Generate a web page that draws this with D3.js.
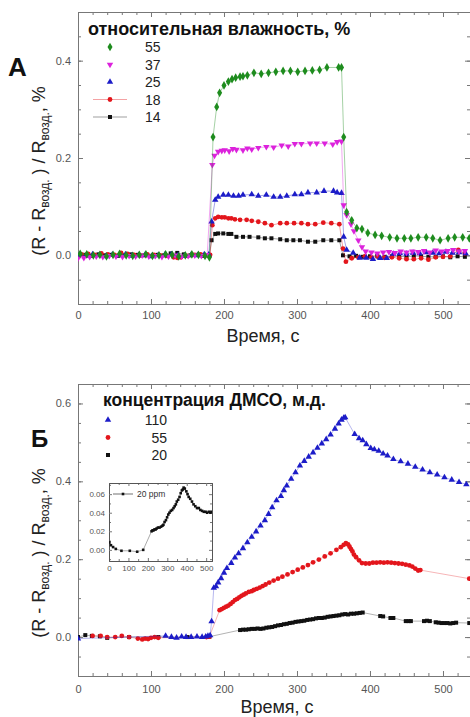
<!DOCTYPE html>
<html><head><meta charset="utf-8">
<script src="https://cdn.jsdelivr.net/npm/d3@7"></script>
<style>body{margin:0;background:#fff} text{font-family:"Liberation Sans",Arial,sans-serif}</style>
</head><body><svg id="c" width="470" height="717"></svg>
<script>
// ---------- Panel A: relative humidity, % ----------
const humLabels = ["55","37","25","18","14"];
const h55_t = [3,12,21,30,39,48,57,66,75,84,93,102,111,120,129,138,147,156,165,174,180, 185,190,194,200,206,211,216,222,226,232,241,251,261,271,281,291,301,311,321,331,341,357,361, 364,368,375,382,389,397,407,416,427,437,447,456,466,477,486,496,507,516,527,536];
const h55_v = [0.003,0.002,0.000,0.001,-0.002,0.001,0.003,0.000,-0.001,0.001,0.002,-0.001,0.000,0.002,0.001,-0.002,0.000,0.002,0.001,-0.001,-0.004, 0.243,0.305,0.334,0.349,0.357,0.362,0.365,0.367,0.368,0.370,0.375,0.373,0.375,0.377,0.379,0.379,0.377,0.379,0.380,0.381,0.386,0.386,0.386, 0.243,0.089,0.072,0.056,0.054,0.046,0.042,0.040,0.037,0.035,0.035,0.035,0.037,0.037,0.035,0.031,0.035,0.037,0.037,0.035];
const h37_t = [0,8,16,25,34,43,52,61,70,79,88,97,106,115,124,133,142,151,160,169,177, 184,187,192,197,201,207,212,217,226,232,238,247,258,268,279,288,297,306,318,327,338,349,355,361, 364,368,374,378,384,389,394,402,410,418,426,434,442,450,458,466,474,482,490,498,506,514,522,530];
const h37_v = [-0.006,-0.005,-0.003,-0.002,-0.003,-0.001,-0.002,-0.003,-0.001,-0.002,0.000,-0.002,-0.001,-0.003,-0.002,0.000,-0.002,-0.001,0.000,-0.001,0.001, 0.186,0.205,0.213,0.215,0.216,0.214,0.219,0.217,0.216,0.220,0.218,0.221,0.223,0.222,0.226,0.224,0.229,0.229,0.230,0.230,0.230,0.228,0.233,0.234, 0.103,0.083,0.064,0.050,0.031,0.017,0.008,0.006,0.004,0.006,0.007,0.005,0.008,0.006,0.008,0.007,0.009,0.006,0.010,0.008,0.009,0.011,0.008,0.009];
const h25_t = [2,11,20,29,38,47,56,65,74,83,92,101,110,119,128,137,146,155,164,173,179, 183,188,192,199,206,213,220,226,238,247,258,268,277,286,297,306,315,327,337,350,355,361, 364,368,377,386,395,404,414,423,432,441,450,459,468,477,486,495,504,513,522,531];
const h25_v = [0.001,-0.001,0.002,0.000,-0.002,0.001,0.000,0.002,-0.001,0.000,0.001,-0.002,0.000,0.001,0.002,0.000,-0.001,0.001,0.000,0.002,0.001, 0.069,0.114,0.120,0.124,0.124,0.122,0.122,0.124,0.125,0.122,0.124,0.120,0.120,0.122,0.125,0.125,0.129,0.129,0.132,0.132,0.129,0.128, 0.038,0.011,0.005,-0.005,-0.005,-0.008,-0.006,-0.006,0.003,0.004,0.003,0.005,0.004,0.006,0.005,0.004,0.007,0.005,0.006,0.004];
const h18_t = [5,14,23,32,41,50,59,68,77,86,95,104,113,122,131,136,141,150,159,168,176,181, 184,188,192,197,201,206,210,215,222,231,238,247,256,265,277,286,296,306,315,325,336,347,358, 363,367,375,384,393,402,411,420,430,440,450,460,470,480,490,500,510,521,530];
const h18_v = [0.002,0.003,0.001,0.004,0.002,0.001,0.005,0.003,0.001,0.000,0.002,0.001,0.000,-0.001,-0.004,-0.005,-0.004,-0.001,0.001,0.002,0.000,0.001, 0.062,0.076,0.079,0.078,0.078,0.076,0.076,0.074,0.073,0.073,0.071,0.069,0.066,0.062,0.066,0.066,0.066,0.066,0.064,0.064,0.067,0.066,0.064, 0.014,-0.013,-0.006,-0.004,-0.002,-0.004,-0.003,-0.005,-0.004,-0.006,-0.008,-0.008,-0.006,-0.009,-0.004,-0.003,-0.002,0.011,0.004];
const h14_t = [1,10,19,28,37,46,55,64,73,82,91,100,109,118,127,136,145,154,163,172,180, 183,188,192,199,206,210,217,226,235,247,256,265,277,286,295,304,315,325,336,347,358, 363,372,381,390,400,410,420,430,440,450,460,470,480,490,500,510,520,530];
const h14_v = [0.000,0.001,-0.001,0.002,0.000,0.001,-0.001,0.000,0.002,0.001,0.000,-0.001,0.001,0.000,0.004,0.005,0.002,0.000,0.001,-0.001,0.000, 0.031,0.044,0.045,0.045,0.044,0.044,0.038,0.038,0.038,0.037,0.035,0.035,0.033,0.031,0.031,0.031,0.028,0.028,0.031,0.031,0.031, 0.000,-0.002,-0.001,-0.003,-0.002,-0.001,-0.003,-0.002,-0.002,-0.003,-0.001,-0.002,-0.003,-0.003,-0.002,-0.004,-0.002,-0.003];

// ---------- Panel B: DMSO concentration, ppm ----------
const dmsoLabels = ["110","55","20"];
const d110_t = [0,120,128,135,142,148,155,163,170,175,178,181,183,186,189,192,196,200,204,210,215,220,226,232,238,244,250,256,261,266,272,278,282,286,292,298,304,310,316,322,328,334,340,346,352,357,361,364,366,379,385,390,395,401,406,412,418,424,432,442,452,462,472,482,492,502,512,522,532];
const d110_v = [-0.004,0.003,0.000,-0.002,0.001,0.000,0.000,0.001,0.000,0.001,0.003,0.004,0.040,0.126,0.130,0.140,0.151,0.165,0.177,0.190,0.204,0.215,0.228,0.243,0.257,0.271,0.286,0.300,0.316,0.333,0.351,0.362,0.377,0.389,0.406,0.423,0.440,0.452,0.463,0.474,0.486,0.497,0.508,0.520,0.535,0.548,0.558,0.563,0.564,0.521,0.510,0.505,0.495,0.485,0.482,0.478,0.471,0.466,0.457,0.451,0.445,0.437,0.430,0.423,0.417,0.410,0.404,0.398,0.392];
const d55_t = [20,31,40,51,60,70,82,88,92,96,100,105,110,176,180,194,197,200,203,206,209,212,215,218,221,224,227,230,234,238,241,245,249,253,257,262,268,274,280,287,294,301,308,315,322,330,338,346,354,360,364,367,370,372,374,376,378,381,385,389,394,399,404,409,414,419,424,429,434,439,444,449,454,458,462,466,469,536];
const d55_v = [0.003,0.003,0.000,0.000,0.003,0.000,-0.004,-0.006,-0.004,-0.005,-0.002,0.000,-0.002,0.000,0.001,0.069,0.072,0.075,0.078,0.081,0.085,0.090,0.095,0.098,0.102,0.106,0.109,0.112,0.116,0.118,0.121,0.124,0.127,0.131,0.135,0.140,0.145,0.150,0.155,0.161,0.167,0.173,0.179,0.185,0.192,0.199,0.207,0.215,0.224,0.231,0.237,0.241,0.238,0.232,0.226,0.220,0.212,0.205,0.197,0.190,0.189,0.189,0.191,0.191,0.192,0.191,0.192,0.191,0.190,0.189,0.188,0.186,0.184,0.181,0.176,0.171,0.172,0.150];
const d20_t = [0,10,19,30,40,70,110,150,180,222,226,230,234,238,242,246,250,254,258,262,266,270,274,278,282,286,290,294,298,302,306,310,314,318,322,326,330,334,338,342,346,350,354,358,362,366,370,374,378,382,386,390,414,418,428,432,449,453,456,474,478,482,490,494,498,502,506,510,514,518,536];
const d20_v = [0.000,0.005,0.003,0.002,-0.002,0.000,0.000,0.000,0.001,0.018,0.019,0.019,0.020,0.021,0.021,0.022,0.021,0.022,0.024,0.025,0.026,0.028,0.030,0.031,0.033,0.034,0.036,0.037,0.039,0.040,0.041,0.042,0.044,0.045,0.046,0.048,0.049,0.049,0.050,0.052,0.053,0.054,0.055,0.056,0.058,0.059,0.058,0.060,0.060,0.061,0.062,0.063,0.054,0.053,0.049,0.049,0.041,0.041,0.041,0.041,0.042,0.041,0.038,0.037,0.036,0.036,0.036,0.035,0.036,0.037,0.036];
// inset: 20 ppm
const inset_t = [2,10,21,35,64,107,145,176,219,224,229,234,240,245,252,260,268,275,280,286,293,299,305,311,318,325,332,338,344,349,356,363,369,375,380,384,390,398,404,410,418,427,435,444,453,462,470,479,488,497,505,514,522,527];
const inset_v = [0.008,0.005,0.003,0.001,-0.001,-0.001,-0.002,0.000,0.020,0.021,0.021,0.022,0.022,0.023,0.024,0.024,0.025,0.026,0.027,0.030,0.032,0.035,0.038,0.040,0.042,0.043,0.045,0.047,0.049,0.052,0.054,0.057,0.061,0.064,0.065,0.067,0.066,0.063,0.060,0.057,0.055,0.052,0.049,0.047,0.045,0.045,0.043,0.042,0.041,0.041,0.040,0.041,0.040,0.041];

// tick labels
const xTickLabels = [0,100,200,300,400,500];
const yTickLabelsA = [0.0,0.2,0.4];
const yTickLabelsB = [0.0,0.2,0.4,0.6];
const insetXTicks = [0,100,200,300,400,500];
const insetYTicks = [0.00,0.02,0.04,0.06];

const zip = (t,v)=>t.map((d,i)=>({t:d,v:v[i]}));
const svg = d3.select("#c");
const AX = "#777", TX = "#555";

const sym = {
  diamond: d3.symbol().type(d3.symbolDiamond).size(22),
  tri: d3.symbol().type(d3.symbolTriangle).size(18),
  circle: d3.symbol().type(d3.symbolCircle).size(18),
  square: d3.symbol().type(d3.symbolSquare).size(16)
};

function frame(g, x, y, o){
  const [xa,xb]=x.range(), [yb,ya]=y.range();
  const mk=(ax,tr,vals,size,fmt,pad)=>{
    const a=g.append("g").attr("transform",tr).call(ax.tickValues(vals).tickSize(-size).tickSizeOuter(0).tickPadding(pad||3).tickFormat(fmt||""));
    a.selectAll("path,line").attr("stroke",AX);
    a.selectAll("text").attr("fill",TX).style("font-size",o.fs+"px");
    return a;
  };
  mk(d3.axisBottom(x),`translate(0,${yb})`,o.xMinor,o.minor);
  mk(d3.axisBottom(x),`translate(0,${yb})`,o.xMajor,o.major,o.xFmt,o.xPad);
  mk(d3.axisTop(x),`translate(0,${ya})`,o.xMinor,o.minor);
  mk(d3.axisTop(x),`translate(0,${ya})`,o.xMajor,o.major);
  mk(d3.axisLeft(y),`translate(${xa},0)`,o.yMinor,o.minor);
  mk(d3.axisLeft(y),`translate(${xa},0)`,o.yMajor,o.major,o.yFmt,o.yPad);
  mk(d3.axisRight(y),`translate(${xb},0)`,o.yMinor,o.minor);
  mk(d3.axisRight(y),`translate(${xb},0)`,o.yMajor,o.major);
}

function series(g, x, y, data, color, shape, rot, lineOp, clipId){
  const gg=g.append("g").attr("clip-path",`url(#${clipId})`);
  gg.append("path").datum(data).attr("fill","none").attr("stroke",color).attr("stroke-width",0.8).attr("stroke-opacity",lineOp)
    .attr("d",d3.line().x(d=>x(d.t)).y(d=>y(d.v)));
  gg.selectAll(null).data(data).join("path").attr("d",sym[shape]).attr("fill",color)
    .attr("transform",d=>`translate(${x(d.t)},${y(d.v)})${rot?" rotate(180)":""}`);
}

function yLabel(cx, cy){
  const t=svg.append("text").attr("transform",`translate(${cx},${cy}) rotate(-90)`).attr("text-anchor","middle").attr("fill","#222").style("font-size","18px");
  t.append("tspan").text("(R - R");
  t.append("tspan").attr("dy",4).style("font-size","12px").text("возд.");
  t.append("tspan").attr("dy",-4).text(" ) / R");
  t.append("tspan").attr("dy",4).style("font-size","12px").text("возд.");
  t.append("tspan").attr("dy",-4).text(", %");
}

const defs=svg.append("defs");
function clip(id,x,y){ defs.append("clipPath").attr("id",id).append("rect").attr("x",x.range()[0]).attr("y",y.range()[1]).attr("width",x.range()[1]-x.range()[0]).attr("height",y.range()[0]-y.range()[1]); }

const xMinor = d3.range(20,540,20).filter(d=>d%100);

// ---------- Panel A ----------
const xA = d3.scaleLinear().domain([0,537]).range([78,470]);
const yA = d3.scaleLinear().domain([-0.1,0.5]).range([304,12]);
clip("cA",xA,yA);
const gA = svg.append("g");
frame(gA,xA,yA,{xMinor,xMajor:xTickLabels,yMinor:d3.range(-0.1,0.501,0.05).map(d=>+d.toFixed(2)),yMajor:yTickLabelsA,
  minor:3,major:5,fs:11,xFmt:d3.format("d"),yFmt:d3.format(".1f"),xPad:7,yPad:7});
const humSeries = [
  {d:zip(h55_t,h55_v),c:"#1e8c1e",s:"diamond",r:false},
  {d:zip(h37_t,h37_v),c:"#dc22dc",s:"tri",r:true},
  {d:zip(h25_t,h25_v),c:"#1c1cc8",s:"tri",r:false},
  {d:zip(h18_t,h18_v),c:"#e3161c",s:"circle",r:false},
  {d:zip(h14_t,h14_v),c:"#111",s:"square",r:false}
];
[4,3,2,1,0].forEach(i=>{const s=humSeries[i]; series(gA,xA,yA,s.d,s.c,s.s,s.r,0.5,"cA");});
// legend A
svg.append("text").attr("x",88).attr("y",35).style("font-size","18px").style("font-weight","bold").attr("fill","#111").text("относительная влажность, %");
const legYA=[47,64.5,82,99.5,117];
humSeries.forEach((s,i)=>{
  if(i>=3) svg.append("line").attr("x1",93).attr("x2",127).attr("y1",legYA[i]).attr("y2",legYA[i]).attr("stroke",s.c).attr("stroke-width",0.8).attr("stroke-opacity",0.5);
  svg.append("path").attr("d",sym[s.s]).attr("fill",s.c).attr("transform",`translate(110,${legYA[i]})${s.r?" rotate(180)":""}`);
  svg.append("text").attr("x",145).attr("y",legYA[i]+5).style("font-size","14px").attr("fill","#222").text(humLabels[i]);
});
svg.append("text").attr("x",8).attr("y",76).style("font-size","26px").style("font-weight","bold").attr("fill","#111").text("А");
yLabel(45,171);
svg.append("text").attr("x",263).attr("y",342).attr("text-anchor","middle").style("font-size","18px").attr("fill","#222").text("Время, с");

// ---------- Panel B ----------
const xB = d3.scaleLinear().domain([0,537]).range([78,470]);
const yB = d3.scaleLinear().domain([-0.1,0.65]).range([676,384]);
clip("cB",xB,yB);
const gB = svg.append("g");
frame(gB,xB,yB,{xMinor,xMajor:xTickLabels,yMinor:d3.range(-0.1,0.651,0.05).map(d=>+d.toFixed(2)),yMajor:yTickLabelsB,
  minor:3,major:5,fs:11,xFmt:d3.format("d"),yFmt:d3.format(".1f"),xPad:9,yPad:7});
const dmsoSeries = [
  {d:zip(d110_t,d110_v),c:"#1c1cc8",s:"tri",r:false},
  {d:zip(d55_t,d55_v),c:"#e3161c",s:"circle",r:false},
  {d:zip(d20_t,d20_v),c:"#111",s:"square",r:false}
];
[2,1,0].forEach(i=>{const s=dmsoSeries[i]; series(gB,xB,yB,s.d,s.c,s.s,s.r,0.4,"cB");});
svg.append("text").attr("x",103).attr("y",406).style("font-size","17.5px").style("font-weight","bold").attr("fill","#111").text("концентрация ДМСО, м.д.");
const legYB=[420,437.5,455];
dmsoSeries.forEach((s,i)=>{
  svg.append("path").attr("d",sym[s.s]).attr("fill",s.c).attr("transform",`translate(108,${legYB[i]})`);
  svg.append("text").attr("x",167).attr("y",legYB[i]+5).attr("text-anchor","end").style("font-size","14px").attr("fill","#222").text(dmsoLabels[i]);
});
svg.append("text").attr("x",31).attr("y",447).style("font-size","24px").style("font-weight","bold").attr("fill","#111").text("Б");
yLabel(45,553);
svg.append("text").attr("x",277).attr("y",713).attr("text-anchor","middle").style("font-size","18px").attr("fill","#222").text("Время, с");

// ---------- Inset ----------
const xI = d3.scaleLinear().domain([0,530]).range([109,212]);
const yI = d3.scaleLinear().domain([-0.012,0.072]).range([561,483]);
svg.append("rect").attr("x",109).attr("y",483).attr("width",103).attr("height",78).attr("fill","#fff");
clip("cI",xI,yI);
const gI = svg.append("g");
frame(gI,xI,yI,{xMinor:d3.range(50,530,100),xMajor:insetXTicks,yMinor:[-0.01,0.01,0.03,0.05,0.07],yMajor:insetYTicks,
  minor:2,major:3,fs:8,xFmt:d3.format("d"),yFmt:d3.format(".2f"),xPad:4,yPad:4});
gI.selectAll("path.domain").attr("stroke","#555");
const gIs=gI.append("g").attr("clip-path","url(#cI)");
const insetData=zip(inset_t,inset_v);
gIs.append("path").datum(insetData).attr("fill","none").attr("stroke","#111").attr("stroke-width",0.6).attr("stroke-opacity",0.6)
  .attr("d",d3.line().x(d=>xI(d.t)).y(d=>yI(d.v)));
gIs.selectAll(null).data(insetData).join("rect").attr("x",d=>xI(d.t)-1.3).attr("y",d=>yI(d.v)-1.3).attr("width",2.6).attr("height",2.6).attr("fill","#111");
svg.append("line").attr("x1",113).attr("x2",133).attr("y1",494).attr("y2",494).attr("stroke","#333").attr("stroke-width",0.7);
svg.append("rect").attr("x",121.7).attr("y",492.7).attr("width",2.6).attr("height",2.6).attr("fill","#111");
svg.append("text").attr("x",137).attr("y",497).style("font-size","8.5px").attr("fill","#333").text("20 ppm");
</script></body></html>
